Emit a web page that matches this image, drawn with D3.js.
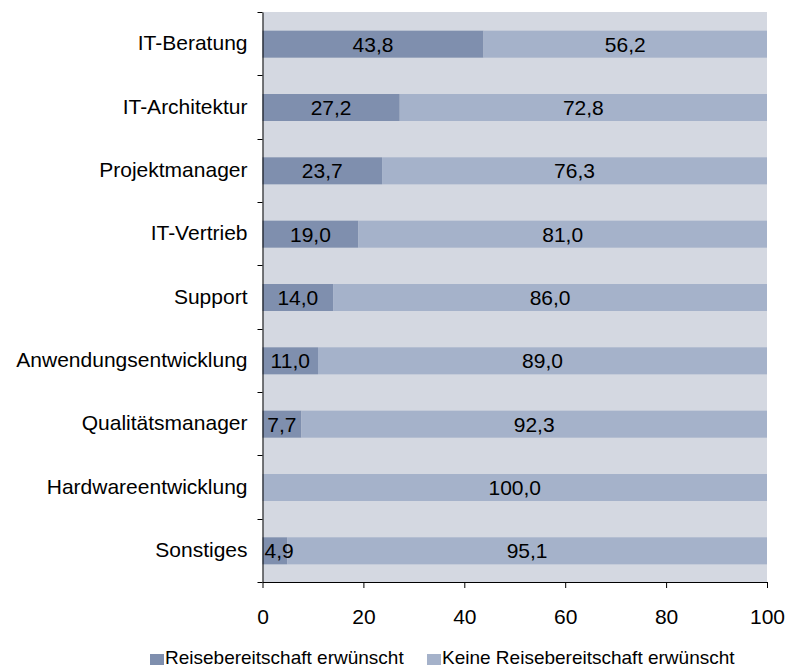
<!DOCTYPE html>
<meta charset="utf-8">
<script src="https://d3js.org/d3.v7.min.js"></script>
<style>
  body { margin: 0; background: #fff; }
  text { font-family: "Liberation Sans", Arial, sans-serif; fill: #000; }
</style>
<div id="chart"></div>
<script>

var categories = ["IT-Beratung", "IT-Architektur", "Projektmanager", "IT-Vertrieb", "Support",
  "Anwendungsentwicklung", "Qualitätsmanager", "Hardwareentwicklung", "Sonstiges"];
var erwuenscht = [43.8, 27.2, 23.7, 19.0, 14.0, 11.0, 7.7, 0, 4.9];
var keine = [56.2, 72.8, 76.3, 81.0, 86.0, 89.0, 92.3, 100.0, 95.1];
var seriesNames = ["Reisebereitschaft erwünscht", "Keine Reisebereitschaft erwünscht"];
var xTicks = [0, 20, 40, 60, 80, 100];

var colors = ["#7f8fae", "#a5b2ca"];

var margin = {top: 12, right: 20, bottom: 87, left: 262.5},
    width = 787 - margin.left - margin.right,
    height = 669 - margin.top - margin.bottom;

var svg = d3.select("#chart")
  .append("svg")
    .attr("width", 787)
    .attr("height", 669)
  .append("g")
    .attr("transform", "translate(" + margin.left + "," + margin.top + ")");

var x = d3.scaleLinear().domain([0, 100]).range([0, width]);
var y = d3.scaleBand().domain(categories).range([0, height]);
var barH = 27;

// plot background
svg.append("rect")
  .attr("width", width).attr("height", height)
  .attr("fill", "#d4d8e1");

var fmt = function(v) { return v.toFixed(1).replace(".", ","); };

var rows = categories.map(function(c, i) {
  return {cat: c, segs: [{s: 0, x0: 0, v: erwuenscht[i]}, {s: 1, x0: erwuenscht[i], v: keine[i]}]};
});

var row = svg.selectAll(".row")
  .data(rows)
  .enter().append("g")
    .attr("transform", function(d) { return "translate(0," + (y(d.cat) + y.bandwidth() / 2 - barH / 2 + 0.5) + ")"; });

row.selectAll("rect")
  .data(function(d) { return d.segs.filter(function(s) { return s.v > 0; }); })
  .enter().append("rect")
    .attr("x", function(d) { return x(d.x0); })
    .attr("width", function(d) { return x(d.x0 + d.v) - x(d.x0); })
    .attr("height", barH)
    .attr("fill", function(d) { return colors[d.s]; });

row.selectAll("text")
  .data(function(d) { return d.segs.filter(function(s) { return s.v > 0; }); })
  .enter().append("text")
    .attr("y", barH / 2)
    .attr("dy", "0.36em")
    .attr("text-anchor", "middle")
    .style("font-size", "21px")
    .text(function(d) { return fmt(d.v); })
    .attr("x", function(d) {
      var c = x(d.x0 + d.v / 2);
      var w = this.getComputedTextLength();
      return Math.max(c, x(d.x0) + w / 2 + 2);
    });

// y axis
var yAxis = svg.append("g")
  .call(d3.axisLeft(y).tickSize(0).tickPadding(15));
yAxis.select(".domain").attr("stroke", "#000");
yAxis.selectAll("text").style("font-size", "21px").attr("font-family", null);
// category separators
svg.append("g").selectAll("line")
  .data(d3.range(categories.length + 1))
  .enter().append("line")
    .attr("x1", -5).attr("x2", 0)
    .attr("y1", function(i) { return Math.round(i * y.step()) + 0.5; })
    .attr("y2", function(i) { return Math.round(i * y.step()) + 0.5; })
    .attr("stroke", "#000");

// x axis
var xAxis = svg.append("g")
  .attr("transform", "translate(0," + height + ")")
  .call(d3.axisBottom(x).tickValues(xTicks).tickSize(6).tickSizeOuter(0).tickPadding(21));
xAxis.selectAll("text").style("font-size", "21px").attr("font-family", null);
xAxis.selectAll("line, .domain").attr("stroke", "#000");

// legend
var legend = d3.select("svg").append("g");
var lx = [150, 427];
seriesNames.forEach(function(n, i) {
  legend.append("rect")
    .attr("x", lx[i]).attr("y", 654)
    .attr("width", 14).attr("height", 11)
    .attr("fill", colors[i]);
  legend.append("text")
    .attr("x", lx[i] + 15).attr("y", 664)
    .style("font-size", "19px")
    .text(n);
});

</script>
